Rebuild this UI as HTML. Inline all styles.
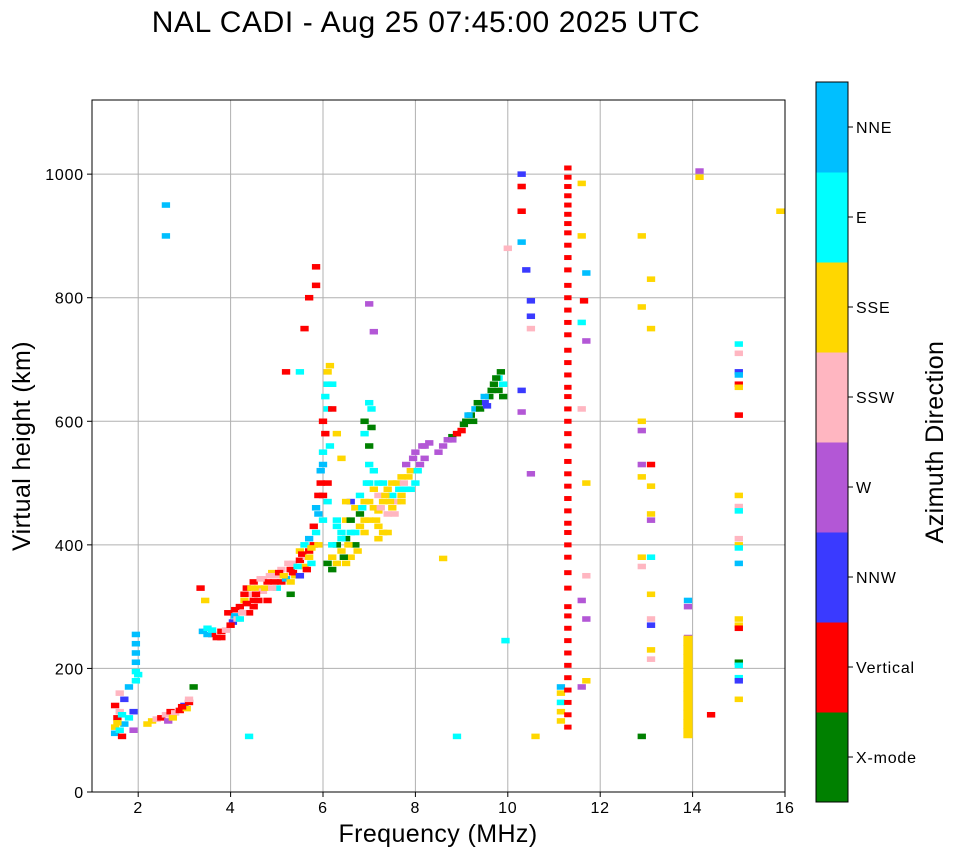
<!DOCTYPE html>
<html><head><meta charset="utf-8"><style>
body{margin:0;background:#fff;font-family:"Liberation Sans",sans-serif;}
svg text{font-family:"Liberation Sans",sans-serif;}
</style></head><body>
<svg id="chart" width="958" height="857">
<text x="426" y="32" font-size="30" letter-spacing="0.6" text-anchor="middle">NAL CADI - Aug 25 07:45:00 2025 UTC</text>
<g id="grid"></g><g id="marks"></g><g id="axes"></g><g id="cbar"></g>
<text x="438" y="842" font-size="25" letter-spacing="0.4" text-anchor="middle">Frequency (MHz)</text>
<text transform="translate(30,446) rotate(-90)" font-size="25" letter-spacing="0.4" text-anchor="middle">Virtual height (km)</text>
<text transform="translate(943,442) rotate(-90)" font-size="25" letter-spacing="0.4" text-anchor="middle">Azimuth Direction</text>
</svg>
<script>
const directions=["X-mode","Vertical","NNW","W","SSW","SSE","E","NNE"];
const dirColors=["#008000","#ff0000","#3a3aff","#b357d6","#ffb6c1","#ffd700","#00ffff","#00bfff"];
const xTicks=[2,4,6,8,10,12,14,16];
const yTicks=[0,200,400,600,800,1000];
const lowTrace=[[1.5,95,7],[1.5,105,5],[1.55,120,1],[1.6,100,6],[1.6,130,4],[1.65,90,1],[1.7,110,7],[1.7,150,2],[1.5,140,1],[1.6,160,4],[1.8,120,6],[1.8,170,7],[1.9,130,2],[1.95,180,6],[1.95,210,7],[1.95,240,7],[1.9,100,3],[2.0,190,6],[1.55,112,5],[1.65,125,6],[1.95,225,7],[1.95,255,7],[1.95,195,6]];
const eTrace=[[2.2,110,5],[2.3,115,5],[2.4,118,4],[2.5,120,1],[2.6,125,4],[2.65,115,3],[2.7,130,1],[2.8,128,4],[2.9,132,1],[3.0,140,2],[3.05,135,5],[3.1,145,1],[3.2,170,0],[3.1,150,4],[2.75,120,5],[2.95,138,1]];
const f1Trace=[[3.35,330,1],[3.4,260,7],[3.45,310,5],[3.5,265,6],[3.6,255,1],[3.7,250,1],[3.8,260,1],[3.9,262,4],[3.95,290,1],[4.05,275,2],[4.1,285,7],[4.15,280,4],[4.2,300,1],[4.3,310,5],[4.35,330,1],[4.4,320,4],[4.5,340,1],[4.6,330,5],[4.7,345,4],[4.8,340,1],[4.9,355,5],[5.0,350,4],[5.1,340,1],[5.2,345,7],[5.3,360,1],[5.35,370,4],[5.4,350,5],[5.5,375,1],[5.6,365,5],[5.65,380,4],[5.7,390,1],[5.75,370,6],[5.8,400,1],[5.85,420,6],[5.9,450,7],[5.9,480,1],[5.95,520,7],[6.0,550,6],[6.0,600,1],[6.05,640,6],[6.1,680,5],[5.85,820,1],[5.85,850,1],[5.7,800,1],[5.6,750,1],[5.5,680,6],[5.2,680,1],[4.5,300,1],[4.4,290,1],[4.2,280,6],[4.8,310,1],[4.6,310,1],[5.0,330,6],[5.3,340,5],[5.6,400,6],[4.3,320,1],[4.7,325,4],[5.1,360,4],[5.5,390,5],[5.7,410,7]];
const f1Extra=[[3.5,255,7],[3.6,262,6],[3.8,250,1],[4.0,270,1],[4.1,295,1],[4.25,290,4],[4.35,305,1],[4.45,330,5],[4.55,320,1],[4.65,345,4],[4.75,330,5],[4.85,350,4],[4.95,340,1],[5.05,355,1],[5.15,350,5],[5.25,370,4],[5.35,355,1],[5.45,365,6],[5.55,385,1],[5.65,360,1],[5.75,395,5],[5.8,430,1],[5.85,460,7],[5.95,500,1],[6.0,530,7],[6.05,580,1],[6.1,620,6],[6.1,660,6],[6.15,690,5],[5.9,400,5],[5.3,320,0],[5.5,350,2],[5.7,380,5],[4.5,310,1],[4.9,330,4],[6.0,440,6],[6.1,500,1]];
const f2Trace=[[6.1,370,0],[6.2,380,5],[6.3,400,0],[6.3,430,6],[6.4,390,5],[6.5,410,0],[6.5,440,5],[6.6,420,6],[6.6,380,5],[6.7,460,5],[6.7,400,0],[6.8,430,5],[6.8,480,6],[6.9,470,5],[6.9,580,6],[7.0,500,6],[7.0,440,5],[7.0,560,0],[7.05,620,6],[7.1,520,6],[7.1,460,5],[7.2,480,4],[7.2,430,5],[7.3,470,5],[7.3,500,6],[7.4,490,5],[7.4,450,4],[7.5,480,6],[7.6,500,5],[7.6,470,4],[7.7,510,5],[7.8,490,6],[7.8,530,3],[7.9,520,5],[8.0,550,3],[8.0,500,6],[8.1,530,3],[8.2,560,3],[8.5,550,3],[8.7,570,3],[8.8,575,0],[9.0,585,1],[9.1,600,0],[9.2,610,0],[9.3,620,7],[9.4,620,0],[9.5,630,2],[9.6,640,0],[9.7,660,0],[9.8,670,6],[9.8,650,0],[9.9,640,0],[6.2,660,6],[6.3,580,5],[6.2,620,1],[7.1,745,3],[7.0,790,3],[6.6,470,2],[6.0,480,1],[6.4,420,6],[6.9,420,5],[7.2,455,5],[7.5,460,5],[7.3,420,5],[6.5,370,5],[6.2,400,6],[6.8,450,0],[7.7,480,5]];
const f2Extra=[[6.2,360,0],[6.3,370,5],[6.4,410,6],[6.45,380,0],[6.55,400,5],[6.6,440,0],[6.7,420,6],[6.75,390,5],[6.85,460,6],[6.9,440,5],[6.95,500,6],[7.0,530,6],[7.0,470,5],[7.05,590,0],[7.1,490,5],[7.15,440,5],[7.2,500,6],[7.25,460,4],[7.35,480,5],[7.45,470,5],[7.5,500,5],[7.55,450,4],[7.65,490,6],[7.7,470,5],[7.75,500,4],[7.85,510,5],[7.9,490,6],[7.95,540,3],[8.05,520,6],[8.15,560,3],[8.2,540,3],[8.3,565,3],[8.6,560,3],[8.8,570,3],[8.9,580,1],[9.05,595,0],[9.15,610,7],[9.25,600,0],[9.35,630,0],[9.5,640,7],[9.55,625,2],[9.65,650,0],[9.75,670,0],[9.85,680,0],[9.9,660,6],[6.9,600,0],[7.0,630,6],[6.4,540,5],[6.5,470,5],[7.2,410,5],[7.4,420,5],[6.3,440,6],[6.1,470,6],[6.15,560,6]];
const scattered=[[10.3,1000,2],[10.3,980,1],[10.3,940,1],[10.3,890,7],[10.4,845,2],[10.5,795,2],[10.5,770,2],[10.5,750,4],[10.3,650,2],[10.3,615,3],[10.5,515,3],[10.0,880,4],[9.95,245,6],[10.6,90,5],[8.9,90,6],[4.4,90,6],[2.6,950,7],[2.6,900,7],[11.6,985,5],[11.6,900,5],[11.7,840,7],[11.6,760,6],[11.7,730,3],[11.6,620,4],[11.7,500,5],[11.7,350,4],[11.6,310,3],[11.7,280,3],[11.7,180,5],[11.6,170,3],[8.6,378,5],[11.15,115,5],[11.15,130,5],[11.15,145,6],[11.15,160,5],[11.15,170,7],[11.65,795,1]];
const highF=[[12.9,900,5],[12.9,785,5],[12.9,600,5],[12.9,585,3],[12.9,530,3],[12.9,510,5],[12.9,380,5],[12.9,365,4],[12.9,90,0],[13.1,530,1],[13.1,495,5],[13.1,450,5],[13.1,440,3],[13.1,380,6],[13.1,320,5],[13.1,280,4],[13.1,270,2],[13.1,230,5],[13.1,215,4],[13.1,830,5],[13.1,750,5],[13.9,310,7],[13.9,300,3],[13.9,250,3],[13.9,220,6],[14.15,1005,3],[14.15,995,5],[14.4,125,1],[15.0,725,6],[15.0,710,4],[15.0,680,2],[15.0,675,7],[15.0,660,1],[15.0,655,5],[15.0,610,1],[15.0,480,5],[15.0,462,4],[15.0,455,6],[15.0,410,4],[15.0,400,5],[15.0,395,6],[15.0,370,7],[15.0,280,5],[15.0,270,5],[15.0,265,1],[15.0,210,0],[15.0,205,6],[15.0,185,6],[15.0,180,2],[15.0,150,5],[15.9,940,5]];
const goldColumn=[95,110,125,140,155,170,185,200,215,230,245];
const verticalColumnH=[105,125,145,165,185,205,225,245,265,285,300,330,355,380,400,420,435,455,475,495,515,535,560,580,600,620,640,655,675,695,715,740,760,780,800,820,845,865,885,905,920,935,950,965,980,995,1010];
const X0=92,X1=785,Y0=792,Y1=100,FMIN=1,FMAX=16,HMIN=0,HMAX=1120;
const xs=f=>X0+(f-FMIN)/(FMAX-FMIN)*(X1-X0);
const ys=h=>Y0-(h-HMIN)/(HMAX-HMIN)*(Y0-Y1);
const NS="http://www.w3.org/2000/svg";
function mk(tag,attrs,parent){const e=document.createElementNS(NS,tag);for(const k in attrs)e.setAttribute(k,attrs[k]);parent.appendChild(e);return e;}
const grid=document.getElementById('grid'),marks=document.getElementById('marks'),axes=document.getElementById('axes'),cbar=document.getElementById('cbar');
xTicks.forEach(t=>{if(t<16){const l=mk('line',{x1:xs(t),x2:xs(t),y1:Y1,y2:Y0,stroke:'#b0b0b0','stroke-width':1},grid);

}});
yTicks.forEach(t=>{if(t>0){const l=mk('line',{x1:X0,x2:X1,y1:ys(t),y2:ys(t),stroke:'#b0b0b0','stroke-width':1},grid);

}});
function rect(f,h,d,wf,hk,name){const r=mk('rect',{x:xs(f)-wf/2*(X1-X0)/(FMAX-FMIN),y:ys(h+hk/2),width:wf*(X1-X0)/(FMAX-FMIN),height:hk*(Y0-Y1)/(HMAX-HMIN),fill:dirColors[d]},marks);

}
[lowTrace,eTrace,f1Trace,f1Extra,f2Trace,f2Extra,scattered,highF].forEach(arr=>arr.forEach(p=>rect(p[0],p[1],p[2],0.18,9,'echo-point')));
goldColumn.forEach(h=>rect(13.9,h,5,0.2,16,'gold-echo'));
verticalColumnH.forEach(h=>rect(11.3,h,1,0.16,8,'vertical-echo'));
mk('rect',{x:X0,y:Y1,width:X1-X0,height:Y0-Y1,fill:'none',stroke:'#000','stroke-width':1},axes);
xTicks.forEach(t=>{mk('line',{x1:xs(t),x2:xs(t),y1:Y0,y2:Y0+5,stroke:'#000'},axes);const tx=mk('text',{x:xs(t),y:Y0+21,'font-size':16,'letter-spacing':0.8,'text-anchor':'middle'},axes);tx.textContent=t;

});
yTicks.forEach(t=>{mk('line',{x1:X0-5,x2:X0,y1:ys(t),y2:ys(t),stroke:'#000'},axes);const tx=mk('text',{x:X0-8,y:ys(t)+6,'font-size':16,'letter-spacing':0.8,'text-anchor':'end'},axes);tx.textContent=t;

});
const CBX=816,CBW=32,CBT=82,CBB=802,bh=(CBB-CBT)/directions.length;
directions.forEach((d,i)=>{const y=CBB-(i+1)*bh;const r=mk('rect',{x:CBX,y:y,width:CBW,height:bh+0.5,fill:dirColors[i]},cbar);


mk('line',{x1:CBX+CBW,x2:CBX+CBW+5,y1:y+bh/2,y2:y+bh/2,stroke:'#000'},cbar);
const tx=mk('text',{x:CBX+CBW+8,y:y+bh/2+6,'font-size':16,'letter-spacing':0.8},cbar);tx.textContent=d;

});
mk('rect',{x:CBX,y:CBT,width:CBW,height:CBB-CBT,fill:'none',stroke:'#000'},cbar);
</script>
</body></html>
